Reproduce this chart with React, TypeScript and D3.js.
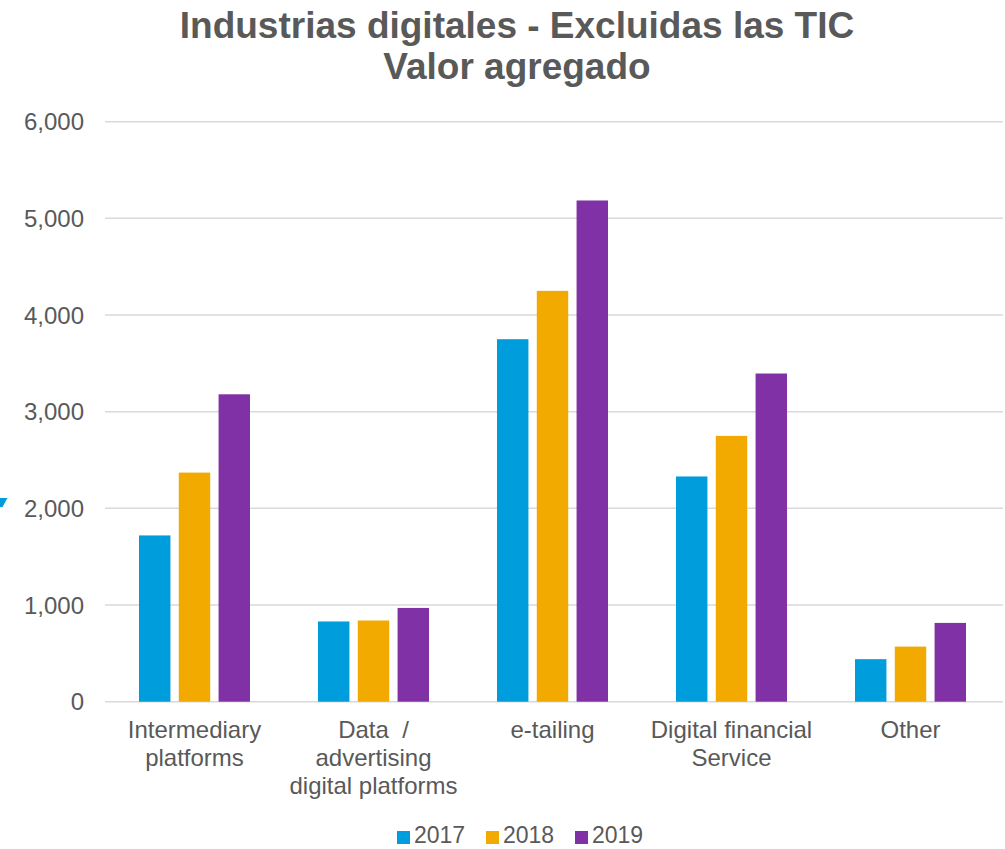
import React from "react";
import * as d3 from "d3";

const categories: string[][] = [
  ["Intermediary", "platforms"],
  ["Data  /", "advertising", "digital platforms"],
  ["e-tailing"],
  ["Digital financial", "Service"],
  ["Other"],
];
const seriesNames = ["2017", "2018", "2019"];
const values2017 = [1720, 830, 3750, 2330, 440];
const values2018 = [2370, 840, 4250, 2750, 570];
const values2019 = [3180, 970, 5185, 3395, 815];
const yTicks = [0, 1000, 2000, 3000, 4000, 5000, 6000];
const titleLines = ["Industrias digitales - Excluidas las TIC", "Valor agregado"];

const colors = ["#009DDC", "#F2A900", "#7F31A5"];
const FONT = "'Liberation Sans', Arial, sans-serif";
const TEXT = "#595959";

export default function App() {
  const W = 1005, H = 849;
  const left = 105, right = 1000, top = 121.7, bottom = 701.7;
  const series = [values2017, values2018, values2019];
  const keys = categories.map((c) => c.join(" "));

  const x0 = d3.scaleBand<string>().domain(keys).range([left, right]).padding(0);
  const x1 = d3
    .scaleBand<string>()
    .domain(seriesNames)
    .range([34, x0.bandwidth() - 34])
    .paddingInner(0.21)
    .paddingOuter(0);
  const y = d3.scaleLinear().domain([0, 6000]).range([bottom, top]);
  const fmt = d3.format(",");

  return (
    <svg
      width={W}
      height={H}
      style={{ position: "absolute", left: 0, top: 0, background: "#fff" }}
      fontFamily={FONT}
    >
      <rect x={0} y={0} width={W} height={H} fill="#fff" />
      {titleLines.map((t, i) => (
        <text
          key={t}
          x={517}
          y={38 + i * 41}
          textAnchor="middle"
          fontSize={37}
          fontWeight="bold"
          fill={TEXT}
        >
          {t}
        </text>
      ))}
      {yTicks.map((t) => (
        <g key={t}>
          <line x1={left} x2={right + 3} y1={y(t)} y2={y(t)} stroke="#D9D9D9" strokeWidth={1.5} />
          <text x={84} y={y(t)} dy="0.36em" textAnchor="end" fontSize={24} fill={TEXT}>
            {fmt(t)}
          </text>
        </g>
      ))}
      {keys.map((k, ci) => (
        <g key={k} transform={`translate(${x0(k)},0)`}>
          {seriesNames.map((s, si) => {
            const v = series[si][ci];
            return (
              <rect
                key={s}
                x={x1(s)}
                y={y(v)}
                width={x1.bandwidth()}
                height={y(0) - y(v)}
                fill={colors[si]}
              />
            );
          })}
          {categories[ci].map((line, li) => (
            <text
              key={li}
              x={x0.bandwidth() / 2}
              y={738 + li * 28}
              textAnchor="middle"
              fontSize={24}
              fill={TEXT}
              style={{ whiteSpace: "pre" }}
            >
              {line}
            </text>
          ))}
        </g>
      ))}
      {seriesNames.map((s, i) => (
        <g key={s} transform={`translate(${397 + i * 89},0)`}>
          <rect x={0} y={831} width={13} height={13} fill={colors[i]} />
          <text x={17} y={843} fontSize={23} fill={TEXT}>
            {s}
          </text>
        </g>
      ))}
      <polygon points="0,498 7.5,498 2.5,507 0,507" fill="#009DDC" />
    </svg>
  );
}
